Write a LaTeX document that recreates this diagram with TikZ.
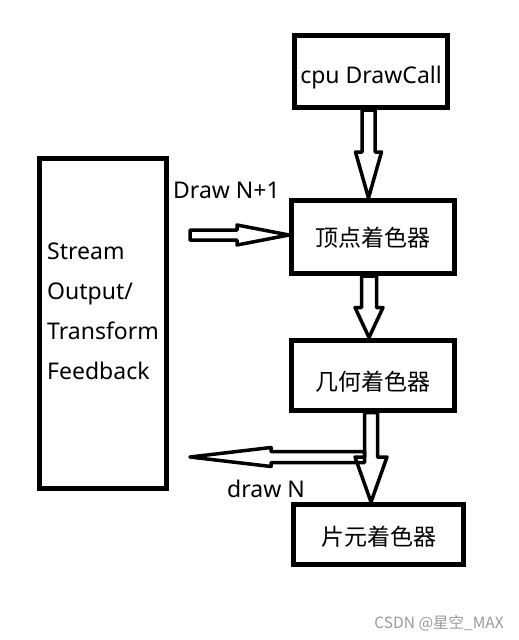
\documentclass[tikz,border=0pt]{standalone}
\usepackage{fontspec}
\setmainfont{Noto Sans}
\newfontfamily\cjk{Noto Sans CJK SC}
\usepackage{tikz}
\usetikzlibrary{calc,positioning}

\begin{document}
\begin{tikzpicture}[x=1pt, y=-1pt,
		box/.style={draw, line width=5pt, inner sep=0pt, text depth=0pt, font=\fontsize{23}{40}\selectfont},
		lbl/.style={inner sep=0pt, font=\fontsize{23}{40}\selectfont},
		hollow/.style n args={3}{draw, line width=3.5pt, line join=round, to path={
			let \p1=($(\tikztotarget)!#3!(\tikztostart)$) in
			($(\tikztostart)!#1!90:(\tikztotarget)$) -- ($(\p1)!#1!-90:(\tikztostart)$)
			-- ($(\p1)!#2!-90:(\tikztostart)$) -- (\tikztotarget)
			-- ($(\p1)!#2!90:(\tikztostart)$) -- ($(\p1)!#1!90:(\tikztostart)$)
			-- ($(\tikztostart)!#1!-90:(\tikztotarget)$) -- cycle}}]
		\useasboundingbox (0,0) rectangle (519,640);

		\node[box, minimum width=153pt, minimum height=72pt, text height=23pt] (cpu) at (371,71.5) {cpu DrawCall};
		\node[box, minimum width=163pt, minimum height=73pt, text height=18pt] (vs) at (373,237) {\cjk 顶点着色器};
		\node[box, minimum width=163pt, minimum height=70pt, text height=30pt] (gs) at (372.5,375) {\cjk 几何着色器};
		\node[box, minimum width=170pt, minimum height=60pt, text height=21pt] (fs) at (378.5,534.5) {\cjk 片元着色器};

		\node[box, minimum width=127pt, minimum height=330pt] (so) at (103,323.5) {};
		\node[lbl, anchor=north west, align=left] (sotxt) at (47,243) {Stream\\Output/\\Transform\\Feedback};

		\node[lbl, anchor=base west] (dn1lbl) at (173,198) {Draw N+1};
		\node[lbl, anchor=base west] (dnlbl) at (227,497) {draw N};

		\draw[hollow={6.5pt}{13pt}{46pt}] ([xshift=-2.5pt]cpu.south) coordinate (a1) to (vs.north -| a1);
		\draw[hollow={7.5pt}{14pt}{30pt}] ([xshift=-4pt]vs.south) coordinate (a2) to (gs.north -| a2);
		\draw[hollow={6.5pt}{16pt}{45pt}] ([xshift=-1.5pt]gs.south) coordinate (a3) to (fs.north -| a3);

		\coordinate (dn1from) at (190,235);
		\draw[hollow={5pt}{10pt}{52pt}] (dn1from) to (vs.west |- dn1from);

		\coordinate (dnfrom) at ($(a3)+(-6.5,44.5)$);
		\coordinate (dnto) at ($(dnfrom)+(-174.5,0)$);
		\draw[hollow={5.5pt}{9.5pt}{81pt}] (dnfrom) to (dnto);

		\node[inner sep=0pt, anchor=base east, text=black!40, font=\cjk\fontsize{15.5}{18}\selectfont] (mark) at (504,628) {CSDN @星空\_MAX};
	\end{tikzpicture}
\end{document}
